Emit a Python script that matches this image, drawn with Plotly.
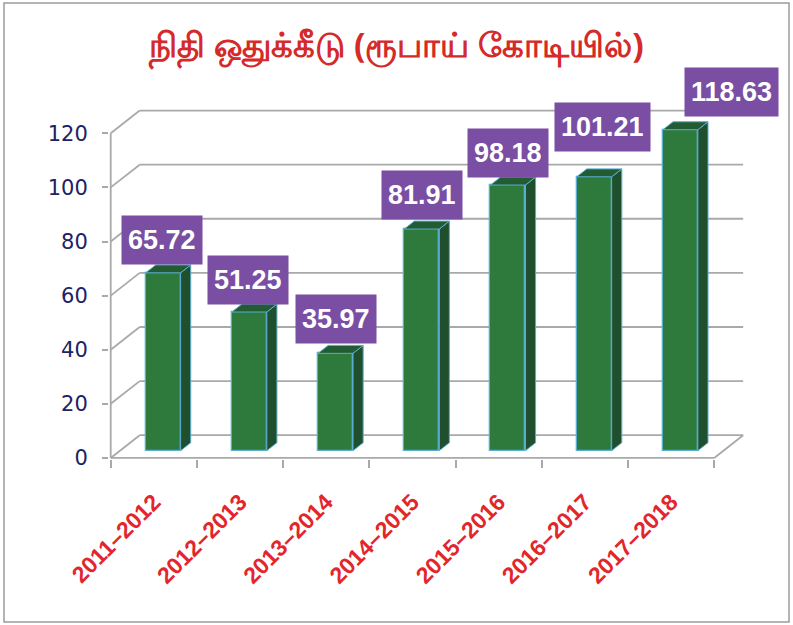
import plotly.graph_objects as go

# ---------------- data ----------------
years = ["2011–2012", "2012–2013", "2013–2014", "2014–2015",
         "2015–2016", "2016–2017", "2017–2018"]
allocation = [65.72, 51.25, 35.97, 81.91, 98.18, 101.21, 118.63]
y_ticks = [0, 20, 40, 60, 80, 100, 120]
title_text = "நிதி ஒதுக்கீடு (ரூபாய் கோடியில்)"

# ---------------- style / geometry ----------------
W, H = 793, 625
ML, MR, MT, MB = 109, 40, 90, 166
XR = [-0.02, 7.45]
YR = [-0.4, 136]

DX, DY = 0.336, 8.4      # offset of back wall (axis units)
F = 0.32                 # depth fraction of bar front faces
BD = 0.35                # bar depth fraction
BW = 0.406               # bar width (category units)
label_dx = [-1, -1, 0, 0, 0, 8, 51]   # pixel nudges of value boxes
label_dy = [8, 7, 9, 9, 7, 25, 13]

GREEN = "#2e7a3d"
SIDE = "#1f4f2d"
TOP = "#235c32"
EDGE = "#5aaed0"
GRID = "#a9a9a9"
PURPLE = "#7a4ea3"

n = len(years)
centers = [i + 0.5 for i in range(n)]
xoff, yoff = F * DX, F * DY
bdx, bdy = BD * DX, BD * DY
bx = [c + xoff for c in centers]

fig = go.Figure()

# front faces
fig.add_trace(go.Bar(
    x=bx, y=allocation, base=yoff, width=BW,
    marker=dict(color=GREEN, line=dict(color=EDGE, width=1.3)),
    hoverinfo="skip", showlegend=False))

# side and top faces
sx, sy, tx, ty = [], [], [], []
for c, v in zip(bx, allocation):
    xl, xr = c - BW / 2, c + BW / 2
    yb, yt = yoff, yoff + v
    sx += [xr, xr + bdx, xr + bdx, xr, xr, None]
    sy += [yb, yb + bdy, yt + bdy, yt, yb, None]
    tx += [xl, xl + bdx, xr + bdx, xr, xl, None]
    ty += [yt, yt + bdy, yt + bdy, yt, yt, None]
fig.add_trace(go.Scatter(x=sx, y=sy, mode="lines", fill="toself",
                         fillcolor=SIDE, line=dict(color=EDGE, width=1),
                         hoverinfo="skip", showlegend=False))
fig.add_trace(go.Scatter(x=tx, y=ty, mode="lines", fill="toself",
                         fillcolor=TOP, line=dict(color=EDGE, width=1),
                         hoverinfo="skip", showlegend=False))

# walls / grid (decoration, below traces)
shapes = []
def seg(x0, y0, x1, y1, w=1.8):
    shapes.append(dict(type="line", xref="x", yref="y", x0=x0, y0=y0,
                       x1=x1, y1=y1, layer="below",
                       line=dict(color=GRID, width=w)))
for t in y_ticks:
    seg(DX, t + DY, n + DX, t + DY)
    seg(0, t, DX, t + DY)
seg(0, 0, 0, y_ticks[-1])
seg(0, 0, n, 0)
seg(n, 0, n + DX, DY)

# outer border
pw, ph = W - ML - MR, H - MT - MB
def px2paper_x(p): return (p - ML) / pw
def px2paper_y(p): return (H - MB - p) / ph
shapes.append(dict(type="rect", xref="paper", yref="paper",
                   x0=px2paper_x(4), x1=px2paper_x(789),
                   y0=px2paper_y(622), y1=px2paper_y(3),
                   line=dict(color="#9c9c9c", width=1.5)))

# value boxes
annotations = []
for i, (c, v) in enumerate(zip(bx, allocation)):
    annotations.append(dict(
        x=c, y=v + yoff, xref="x", yref="y", text=f"{v:.2f}",
        showarrow=False, xanchor="center", yanchor="bottom",
        xshift=label_dx[i], yshift=label_dy[i],
        bgcolor=PURPLE, borderpad=6, height=36, valign="middle",
        font=dict(family="Liberation Sans", size=27, color="white",
                  weight="bold")))

fig.update_layout(
    width=W, height=H,
    margin=dict(l=ML, r=MR, t=MT, b=MB),
    paper_bgcolor="white", plot_bgcolor="white",
    bargap=0,
    shapes=shapes, annotations=annotations,
    title=dict(text=title_text, x=0.5, xanchor="center",
               y=1 - 45 / H, yanchor="middle",
               font=dict(size=34, color="#d42a2a", family="Noto Sans",
                         weight="bold")),
    xaxis=dict(range=XR, tickmode="array", tickvals=centers, ticktext=years,
               tickangle=-45, ticks="", showgrid=False, zeroline=False,
               showline=False, ticklabelstandoff=24,
               minor=dict(tickmode="array", tickvals=list(range(n + 1)),
                          ticks="outside", ticklen=8, tickwidth=1.5,
                          tickcolor=GRID, showgrid=False),
               tickfont=dict(family="Liberation Sans", size=23,
                             color="#e3262b", weight="bold")),
    yaxis=dict(range=YR, tickmode="array", tickvals=y_ticks,
               ticks="outside", ticklen=6, tickwidth=1.5, tickcolor=GRID,
               showgrid=False, zeroline=False, showline=False,
               ticklabelstandoff=10,
               tickfont=dict(family="DejaVu Sans", size=21,
                             color="#1d2263")),
)

fig.write_html("out.html", config={"displayModeBar": False},
               post_script="document.body.style.margin='0';document.body.style.overflow='hidden';")
